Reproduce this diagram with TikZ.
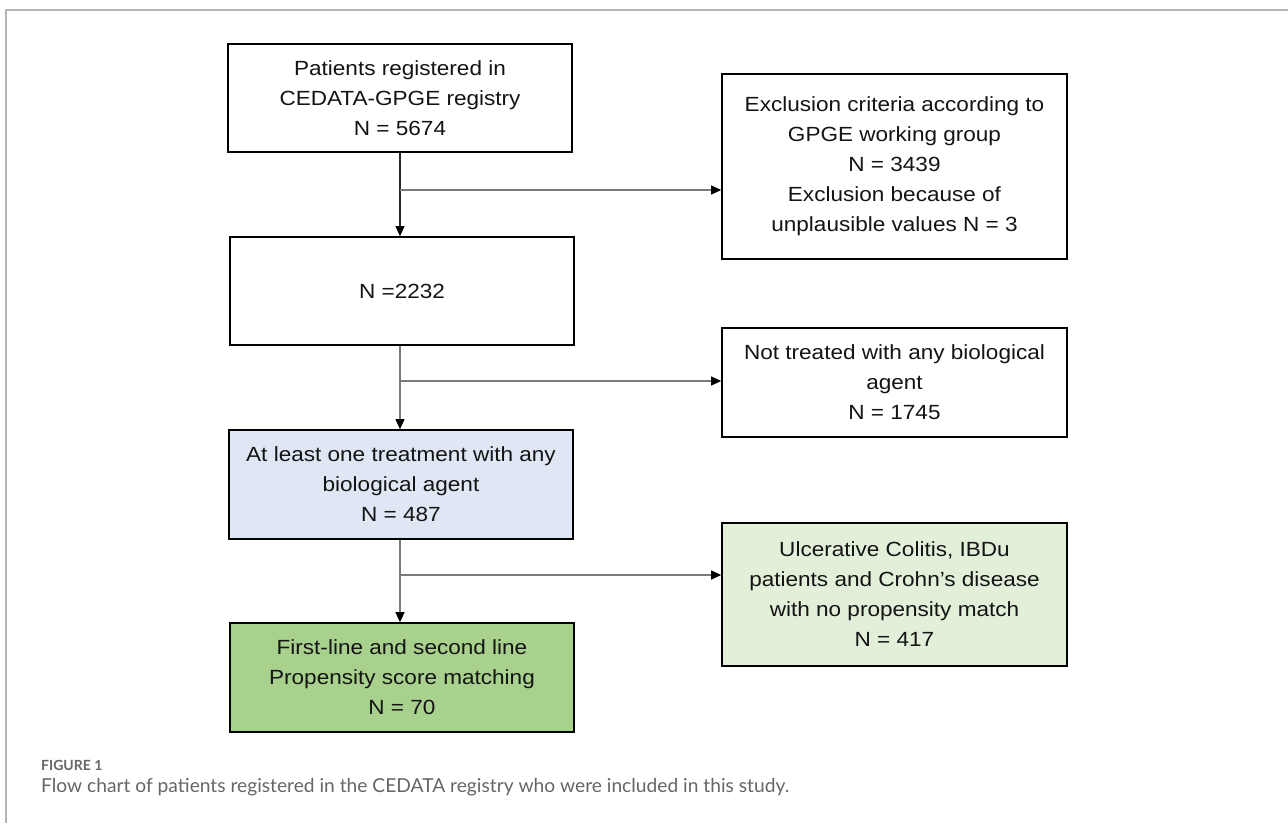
\documentclass[tikz,border=0pt]{standalone}
\usepackage{fontspec}
\setmainfont{Liberation Sans}
\newfontfamily\boxfont[FakeStretch=1.1]{Liberation Sans}
\newfontfamily\capfont{Lato}
\usetikzlibrary{arrows.meta}
\definecolor{framegray}{HTML}{B5B5B5}
\definecolor{linegray}{HTML}{7A7A7A}
\definecolor{boxblue}{HTML}{DEE7F3}
\definecolor{boxlgreen}{HTML}{E2EFD9}
\definecolor{boxgreen}{HTML}{A9D18E}
\definecolor{captext}{HTML}{666666}
\begin{document}
\begin{tikzpicture}[x=1pt,y=-1pt,
  box/.style={draw=black, line width=1.7pt, align=center, inner sep=0pt,
    font=\boxfont\fontsize{20.5}{30}\selectfont, text=black!92},
  conn/.style={draw=linegray, line width=1.1pt,
    -{Triangle[length=10pt,width=9pt,color=black]}},
  captitle/.style={anchor=base west, inner sep=0pt, text=captext,
    font=\capfont\bfseries\fontsize{14}{16}\selectfont},
  capbody/.style={anchor=base west, inner sep=0pt, text=captext,
    font=\capfont\fontsize{19.2}{22}\selectfont}]
\useasboundingbox (0,0) rectangle (1288,823);
\fill[white] (0,0) rectangle (1288,823);
\draw[framegray, line width=1.5pt] (6,823) -- (6,10) -- (1288,10);

\node[box, minimum width=344pt, minimum height=108pt] (b1) at (400,98)
  {Patients registered in\\CEDATA-GPGE registry\\N = 5674};
\node[box, minimum width=345pt, minimum height=185pt] (b2) at (894.5,166.5)
  {Exclusion criteria according to\\GPGE working group\\N = 3439\\Exclusion because of\\unplausible values N = 3};
\node[box, minimum width=344pt, minimum height=108pt] (b3) at (402,291)
  {N =2232};
\node[box, minimum width=345pt, minimum height=109pt] (b4) at (894.5,382.5)
  {Not treated with any biological\\agent\\N = 1745};
\node[box, fill=boxblue, minimum width=344pt, minimum height=109pt] (b5) at (401,484.5)
  {At least one treatment with any\\biological agent\\N = 487};
\node[box, fill=boxlgreen, minimum width=345pt, minimum height=143pt] (b6) at (894.5,594.5)
  {Ulcerative Colitis, IBDu\\patients and Crohn’s disease\\with no propensity match\\N = 417};
\node[box, fill=boxgreen, minimum width=344pt, minimum height=109pt] (b7) at (402,677.5)
  {First-line and second line\\Propensity score matching\\N = 70};

\coordinate (j1) at (400,190);
\coordinate (j2) at (400,381);
\coordinate (j3) at (400,575);

\draw[conn, draw=black!85] (b1.south -| j1) -- (b3.north -| j1);
\draw[conn] (j1) -- (b2.west |- j1);
\draw[conn] (b3.south -| j2) -- (b5.north -| j2);
\draw[conn] (j2) -- (b4.west |- j2);
\draw[conn] (b5.south -| j3) -- (b7.north -| j3);
\draw[conn] (j3) -- (b6.west |- j3);

\node[captitle] (cap1) at (41,770) {FIGURE 1};
\node[capbody] (cap2) at (41,792) {Flow chart of patients registered in the CEDATA registry who were included in this study.};
\end{tikzpicture}
\end{document}
